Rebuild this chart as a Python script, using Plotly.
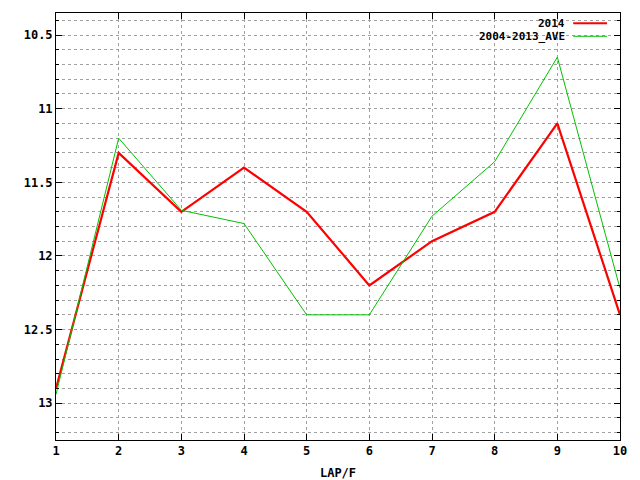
import plotly.graph_objects as go

# dane
laps = [1, 2, 3, 4, 5, 6, 7, 8, 9, 10]
lap_2014 = [12.9, 11.3, 11.7, 11.4, 11.7, 12.2, 11.9, 11.7, 11.1, 12.4]
lap_ave = [12.94, 11.2, 11.69, 11.78, 12.4, 12.4, 11.73, 11.36, 10.65, 12.22]
y_ticks = [10.5, 11, 11.5, 12, 12.5, 13]
y_labels = ["10.5", "11", "11.5", "12", "12.5", "13"]

font = dict(family="DejaVu Sans Mono", size=12, color="black", weight="bold")
legend_font = dict(font, size=11)

fig = go.Figure()
fig.add_trace(go.Scatter(x=laps, y=lap_2014, mode="lines", name="2014",
                         line=dict(color="#ff0000", width=2.2)))
fig.add_trace(go.Scatter(x=laps, y=lap_ave, mode="lines", name="2004-2013_AVE",
                         line=dict(color="#00c000", width=1)))

axis_common = dict(showline=True, linecolor="black", linewidth=1, mirror="ticks",
                   ticks="inside", ticklen=6, tickcolor="black", automargin=False,
                   showgrid=True, gridcolor="#a0a0a0", griddash="3px,3px", gridwidth=1,
                   zeroline=False, tickfont=font)

fig.update_xaxes(range=[1, 10], tickmode="array", tickvals=laps,
                 title=dict(text="LAP/F", font=font, standoff=16), **axis_common)
fig.update_yaxes(range=[13.25, 10.35], tickmode="array", tickvals=y_ticks,
                 ticktext=y_labels,
                 minor=dict(dtick=0.1, tick0=10.5, ticks="inside", ticklen=3,
                            tickcolor="black", showgrid=True, gridcolor="#a0a0a0",
                            griddash="3px,3px", gridwidth=1),
                 **axis_common)

# legenda w stylu gnuplota: tekst, potem probka linii
for i, tr in enumerate(fig.data):
    yy = 0.976 - i * 0.0305
    fig.add_annotation(xref="paper", yref="paper", x=0.904, y=yy, text=tr.name,
                       showarrow=False, xanchor="right", yanchor="middle",
                       borderpad=0, font=legend_font)
    fig.add_shape(type="line", xref="paper", yref="paper", x0=0.917, x1=0.977,
                  y0=yy, y1=yy, line=dict(color=tr.line.color, width=tr.line.width))

# strona ma margines 8px, wiec przesuwamy obszar wykresu
fig.update_layout(width=632, height=472, showlegend=False,
                  margin=dict(l=48, r=20, t=5, b=40),
                  paper_bgcolor="white", plot_bgcolor="white")

fig.write_html("out.html")
